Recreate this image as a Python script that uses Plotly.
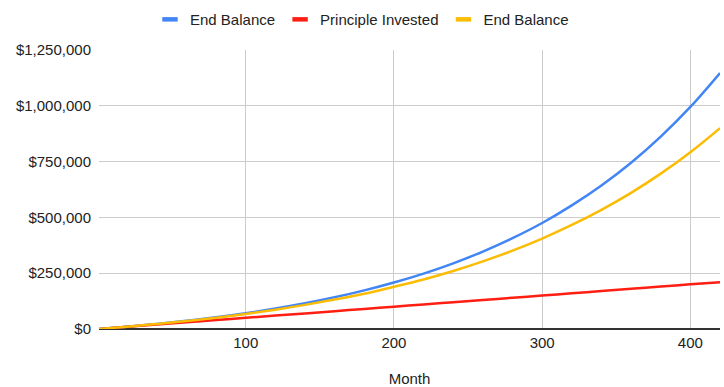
import plotly.graph_objects as go

months = [1, 20, 40, 60, 80, 100, 120, 140, 160, 180, 200, 220, 240, 260, 280,
          300, 320, 340, 360, 380, 400, 420]
end_balance_a = [500, 10600, 22800, 36700, 52600, 70700, 91400, 115000, 142000,
                 173000, 208000, 248000, 294000, 347000, 407000, 475000, 554000,
                 643000, 745000, 862000, 995000, 1147000]
principle = [500, 10000, 20000, 30000, 40000, 50000, 60000, 70000, 80000, 90000,
             100000, 110000, 120000, 130000, 140000, 150000, 160000, 170000,
             180000, 190000, 200000, 210000]
end_balance_b = [500, 10600, 22500, 35800, 50800, 67600, 86600, 108000, 132000,
                 158000, 189000, 222000, 260000, 303000, 351000, 405000, 466000,
                 534000, 610000, 696000, 792000, 900000]

series_names = ["End Balance", "Principle Invested", "End Balance"]
series_colors = ["#4285F4", "#FF1E12", "#FBBC04"]
series_values = [end_balance_a, principle, end_balance_b]

x_ticks = [100, 200, 300, 400]
y_ticks = [0, 250000, 500000, 750000, 1000000, 1250000]
y_tick_labels = ["$0", "$250,000", "$500,000", "$750,000", "$1,000,000", "$1,250,000"]

FONT = "Liberation Sans, Arial, sans-serif"

fig = go.Figure()
for name, color, vals in zip(series_names, series_colors, series_values):
    fig.add_trace(go.Scatter(x=months, y=vals, name=name, mode="lines",
                             showlegend=False,
                             line=dict(color=color, width=2.5, shape="spline")))
# legend swatches (short thick bars like the original)
for name, color in zip(series_names, series_colors):
    fig.add_trace(go.Scatter(x=[None], y=[None], name=name, mode="markers",
                             marker=dict(symbol="line-ew-open", size=11, color=color,
                                         line=dict(width=4.5, color=color))))

fig.update_layout(
    width=724, height=387,
    margin=dict(l=99, r=4, t=50, b=58, autoexpand=False),
    paper_bgcolor="white", plot_bgcolor="white",
    font=dict(family=FONT, size=15, color="#222"),
    legend=dict(orientation="h", xref="container", yref="container",
                x=0.5, xanchor="center", y=0.992, yanchor="top",
                font=dict(family=FONT, size=15, color="#222"), itemwidth=30,
                traceorder="normal"),
    showlegend=True,
)
fig.update_xaxes(range=[1, 420], tickvals=x_ticks, showgrid=True, gridcolor="#cccccc",
                 gridwidth=1, zeroline=False, showline=False, ticks="",
                 ticklabelstandoff=3, automargin=False,
                 tickfont=dict(family=FONT, size=15, color="#222"),
                 title=dict(text="Month", font=dict(family=FONT, size=15, color="#222"),
                            standoff=27))
fig.update_yaxes(range=[0, 1250000], tickvals=y_ticks, ticktext=y_tick_labels,
                 showgrid=True, gridcolor="#cccccc", gridwidth=1,
                 zeroline=True, zerolinecolor="#333333", zerolinewidth=1.5,
                 showline=False, ticks="", ticklabelstandoff=7, automargin=False,
                 tickfont=dict(family=FONT, size=15, color="#222"))

fig.write_html("out.html")
